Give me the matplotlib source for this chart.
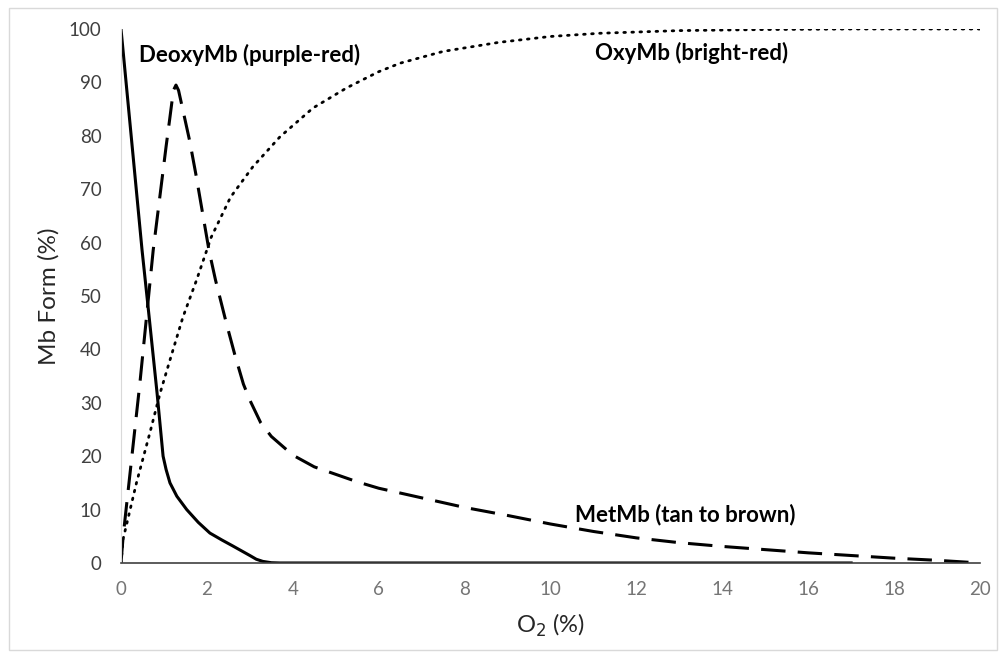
import matplotlib.pyplot as plt
from matplotlib.patches import Rectangle

# O2 (%) vs Mb form (%)
deoxy_x = [0, 0.49, 0.63, 0.84, 0.98, 1.05, 1.14, 1.3, 1.53, 1.8, 2.07, 2.35, 2.6, 2.8, 3.0, 3.15, 3.3, 3.5, 3.7, 10, 17]
deoxy_y = [100, 58.6, 48, 31.8, 20, 17.5, 15, 12.5, 10, 7.6, 5.6, 4.3, 3.2, 2.3, 1.4, 0.7, 0.3, 0.05, 0, 0, 0]

met_x = [0, 0.05, 0.44, 0.75, 1.05, 1.14, 1.22, 1.28, 1.34, 1.45, 1.6, 1.75, 1.9, 2.05, 2.2, 2.45, 2.65, 2.85,
         3.0, 3.25, 3.5, 4.0, 4.5, 5, 5.5, 6, 7, 8, 9, 10, 11, 12, 13, 14, 15, 16, 17, 18, 19, 20]
met_y = [0, 5, 33.7, 58.6, 78, 83.5, 88.5, 89.5, 88.5, 84.5, 79, 72.5, 65.5, 58.5, 53, 45, 39, 33.5,
         30.5, 26.3, 23.7, 20.2, 18.0, 16.6, 15.2, 14, 12.2, 10.4, 8.9, 7.3, 5.9, 4.7, 3.8, 3.1, 2.5, 1.9, 1.4, 0.9, 0.5, 0]

oxy_x = [0, 0.05, 0.36, 0.67, 0.91, 1.14, 1.44, 1.76, 2.1, 2.55, 3.07, 3.7, 4.47, 5.26, 6.0, 6.5, 7.5,
         8.8, 10, 11.15, 13, 15, 17, 20]
oxy_y = [0, 4.5, 15, 24.3, 31.8, 38, 46, 53, 61, 68.5, 74.2, 79.8, 85.2, 89, 92, 93.6, 95.8,
         97.5, 98.6, 99.2, 99.7, 99.9, 100, 100]

x_ticks = list(range(0, 21, 2))
y_ticks = list(range(0, 101, 10))

plt.rcParams['font.family'] = ['Lato', 'DejaVu Sans']

fig = plt.figure(figsize=(10, 6.56), dpi=100)
fig.patches.append(Rectangle((0.009, 0.009), 0.988, 0.979, transform=fig.transFigure,
                             fill=False, edgecolor='#d9d9d9', linewidth=1))
ax = fig.add_axes([0.121, 0.1418, 0.859, 0.814])

ax.plot(deoxy_x, deoxy_y, color='black', linewidth=2.2, solid_joinstyle='round')
ax.plot(met_x, met_y, color='black', linewidth=2.2, dashes=(8, 4), dash_joinstyle='round')
ax.plot(oxy_x, oxy_y, color='black', linewidth=2.0, linestyle=(0, (0.6, 2.3)),
        dash_capstyle='round')

ax.text(0.42, 95.1, 'DeoxyMb (purple-red)', fontsize=16, fontweight='bold', va='center', ha='left')
ax.text(11.04, 95.5, 'OxyMb (bright-red)', fontsize=16, fontweight='bold', va='center', ha='left')
ax.text(10.57, 9.0, 'MetMb (tan to brown)', fontsize=16, fontweight='bold', va='center', ha='left')

ax.set_xlim(0, 20)
ax.set_ylim(0, 100)
ax.set_xticks(x_ticks)
ax.set_yticks(y_ticks)
ax.tick_params(length=0, labelsize=13.5)
ax.tick_params(axis='x', labelcolor='#757575', pad=13)
ax.tick_params(axis='y', labelcolor='#404040', pad=14)

for side in ['top', 'right']:
    ax.spines[side].set_visible(False)
ax.spines['left'].set_color('#d9d9d9')
ax.spines['bottom'].set_color('#404040')
ax.spines['bottom'].set_linewidth(1.2)

ax.set_xlabel('O$_2$ (%)', fontsize=17, color='#262626', labelpad=10)
ax.set_ylabel('Mb Form (%)', fontsize=17.5, color='#262626', labelpad=7)

fig.savefig('out.png', dpi=100)
